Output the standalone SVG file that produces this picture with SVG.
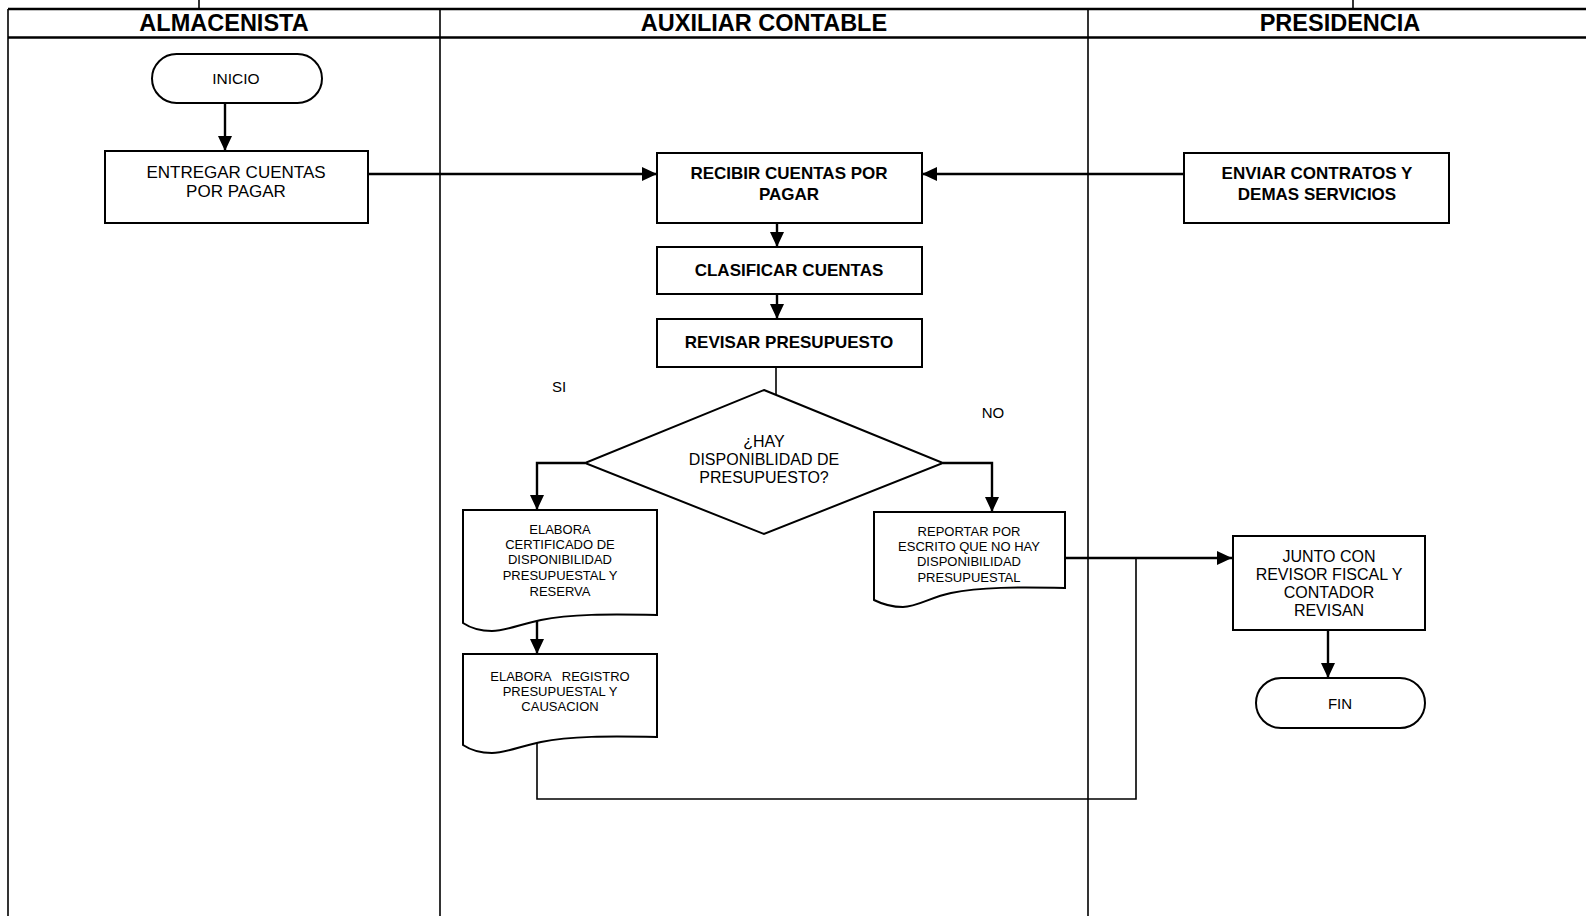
<svg xmlns="http://www.w3.org/2000/svg" width="1586" height="916" viewBox="0 0 1586 916">
<style>
.lane{stroke:#000;stroke-width:1.6;fill:none}
.hdr{stroke:#000;stroke-width:2.4;fill:none}
.box{fill:#fff;stroke:#000;stroke-width:2}
.t{font-family:"Liberation Sans",Arial,sans-serif;fill:#000;text-anchor:middle}
.b{font-weight:bold;font-size:17px}
.h{font-weight:bold;font-size:23.5px}
.r16{font-size:16px}
.r13{font-size:13px}
.c{stroke:#000;stroke-width:2.4;fill:none}
.thin{stroke:#000;stroke-width:1.6;fill:none}
</style>
<defs>
<marker id="ah" markerWidth="15" markerHeight="14" refX="15" refY="7" orient="auto" markerUnits="userSpaceOnUse">
<path d="M0,0 L15,7 L0,14 Z" fill="#000"/>
</marker>
</defs>
<rect x="0" y="0" width="1586" height="916" fill="#fff"/>
<g id="lanes">
<line class="lane" x1="199" y1="0" x2="199" y2="9"/>
<line class="lane" x1="1353" y1="0" x2="1353" y2="9"/>
<line class="hdr" x1="8" y1="9" x2="1586" y2="9"/>
<line class="hdr" x1="8" y1="37.5" x2="1586" y2="37.5"/>
<line class="lane" x1="8" y1="9" x2="8" y2="916"/>
<line class="lane" x1="440" y1="9" x2="440" y2="916"/>
<line class="lane" x1="1088" y1="9" x2="1088" y2="916"/>
<text class="t h" x="224" y="31">ALMACENISTA</text>
<text class="t h" x="764" y="31">AUXILIAR CONTABLE</text>
<text class="t h" x="1340" y="31">PRESIDENCIA</text>
</g>
<g id="connectors">
<line class="c" x1="225" y1="103" x2="225" y2="151" marker-end="url(#ah)"/>
<line class="c" x1="368" y1="174" x2="657" y2="174" marker-end="url(#ah)"/>
<line class="c" x1="1184" y1="174" x2="922" y2="174" marker-end="url(#ah)"/>
<line class="c" x1="777" y1="223" x2="777" y2="247" marker-end="url(#ah)"/>
<line class="c" x1="777" y1="294" x2="777" y2="319" marker-end="url(#ah)"/>
<line class="thin" x1="776" y1="367" x2="776" y2="395"/>
<polyline class="c" points="585,463 537,463 537,510" marker-end="url(#ah)"/>
<polyline class="c" points="943,463 992,463 992,512" marker-end="url(#ah)"/>
<line class="c" x1="537" y1="621" x2="537" y2="654" marker-end="url(#ah)"/>
<polyline class="thin" points="537,743 537,799 1136,799 1136,558"/>
<line class="c" x1="1065" y1="558" x2="1232" y2="558" marker-end="url(#ah)"/>
<line class="c" x1="1328" y1="630" x2="1328" y2="678" marker-end="url(#ah)"/>
</g>
<g id="inicio">
<rect class="box" x="152" y="54" width="170" height="49" rx="24.5"/>
<text class="t" x="236" y="84" font-size="15.5">INICIO</text>
</g>
<g id="entregar">
<rect class="box" x="105" y="151" width="263" height="72"/>
<text class="t" font-size="17" x="236" y="178">ENTREGAR CUENTAS</text>
<text class="t" font-size="17" x="236" y="197">POR PAGAR</text>
</g>
<g id="recibir">
<rect class="box" x="657" y="153" width="265" height="70"/>
<text class="t b" x="789" y="179">RECIBIR CUENTAS POR</text>
<text class="t b" x="789" y="200">PAGAR</text>
</g>
<g id="enviar">
<rect class="box" x="1184" y="153" width="265" height="70"/>
<text class="t b" x="1317" y="179">ENVIAR CONTRATOS Y</text>
<text class="t b" x="1317" y="200">DEMAS SERVICIOS</text>
</g>
<g id="clasificar">
<rect class="box" x="657" y="247" width="265" height="47"/>
<text class="t b" x="789" y="276">CLASIFICAR CUENTAS</text>
</g>
<g id="revisar">
<rect class="box" x="657" y="319" width="265" height="48"/>
<text class="t b" x="789" y="348">REVISAR PRESUPUESTO</text>
</g>
<g id="decision">
<polygon class="box" points="764,390 943,463 764,534 585,463"/>
<text class="t r16" x="764" y="447">¿HAY</text>
<text class="t r16" x="764" y="465">DISPONIBLIDAD DE</text>
<text class="t r16" x="764" y="483">PRESUPUESTO?</text>
</g>
<g id="label-si">
<text class="t" x="559" y="392" font-size="15">SI</text>
</g>
<g id="label-no">
<text class="t" x="993" y="418" font-size="15">NO</text>
</g>
<g id="certificado">
<path class="box" d="M463,510 H657 V615 C608,614 570,614 541,620 C521,624 506,631 492,631 C479,631 469,627 463,623 Z"/>
<text class="t r13" x="560" y="534">ELABORA</text>
<text class="t r13" x="560" y="549">CERTIFICADO DE</text>
<text class="t r13" x="560" y="564">DISPONIBILIDAD</text>
<text class="t r13" x="560" y="580">PRESUPUESTAL Y</text>
<text class="t r13" x="560" y="596">RESERVA</text>
</g>
<g id="registro">
<path class="box" d="M463,654 H657 V737 C608,736 570,736 541,742 C521,746 506,753 492,753 C479,753 469,749 463,745 Z"/>
<text class="t r13" x="560" y="681" xml:space="preserve">ELABORA   REGISTRO</text>
<text class="t r13" x="560" y="696">PRESUPUESTAL Y</text>
<text class="t r13" x="560" y="711">CAUSACION</text>
</g>
<g id="reportar">
<path class="box" d="M874,512 H1065 V588 C1017,587 980,587 951,593 C931,597 917,607 903,607 C890,607 880,603 874,600 Z"/>
<text class="t r13" x="969" y="536">REPORTAR POR</text>
<text class="t r13" x="969" y="551">ESCRITO QUE NO HAY</text>
<text class="t r13" x="969" y="566">DISPONIBILIDAD</text>
<text class="t r13" x="969" y="582">PRESUPUESTAL</text>
</g>
<g id="junto">
<rect class="box" x="1233" y="536" width="192" height="94"/>
<text class="t r16" x="1329" y="562">JUNTO CON</text>
<text class="t r16" x="1329" y="580">REVISOR FISCAL Y</text>
<text class="t r16" x="1329" y="598">CONTADOR</text>
<text class="t r16" x="1329" y="616">REVISAN</text>
</g>
<g id="fin">
<rect class="box" x="1256" y="678" width="169" height="50" rx="25"/>
<text class="t" x="1340" y="709" font-size="15">FIN</text>
</g>
</svg>
